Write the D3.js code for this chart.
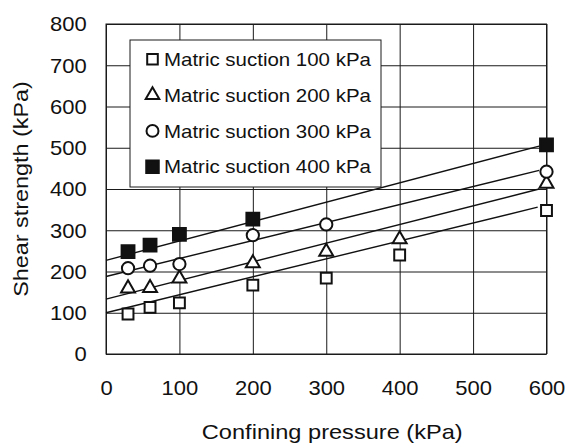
<!DOCTYPE html>
<html>
<head>
<meta charset="utf-8">
<script src="https://cdn.jsdelivr.net/npm/d3@7"></script>
<style>
  body { margin: 0; background: #fff; }
  #wrapper svg { display: block; }
  text { font-family: "Liberation Sans", Arial, sans-serif; fill: #111; }
</style>
</head>
<body>
<div id="wrapper"></div>
<script>
// data
const pressures = [30, 60, 100, 200, 300, 400, 600]
const suction100 = [97, 113, 124, 167, 184, 240, 348]
const suction200 = [159, 160, 183, 220, 248, 278, 413]
const suction300 = [208, 214, 218, 288, 314, null, 442]
const suction400 = [248, 264, 290, 327, null, null, 507]

// fitted lines, [pressure, strength] end points
const fit100 = [[0, 100], [588, 356]]
const fit200 = [[0, 133], [590, 400]]
const fit300 = [[0, 188], [590, 445]]
const fit400 = [[0, 227], [590, 504]]

const seriesNames = ["Matric suction 100 kPa", "Matric suction 200 kPa", "Matric suction 300 kPa", "Matric suction 400 kPa"]
const xTicks = [0, 100, 200, 300, 400, 500, 600]
const yTicks = [0, 100, 200, 300, 400, 500, 600, 700, 800]

function drawChart(){
    const xAccessor = d => d[0]
    const yAccessor = d => d[1]

    let dimensions = {
        width: 566,
        height: 444,
        margin: { top: 24, right: 19.5, bottom: 90, left: 106 },
    }
    dimensions.boundedWidth = dimensions.width - dimensions.margin.left - dimensions.margin.right
    dimensions.boundedHeight = dimensions.height - dimensions.margin.top - dimensions.margin.bottom

    const wrapper = d3.select("#wrapper")
        .append("svg")
        .attr("width", dimensions.width)
        .attr("height", dimensions.height)

    const bounds = wrapper.append("g")
        .attr("transform", `translate(${dimensions.margin.left},${dimensions.margin.top})`)

    const xScale = d3.scaleLinear().domain([0, 600]).range([0, dimensions.boundedWidth])
    const yScale = d3.scaleLinear().domain([0, 800]).range([dimensions.boundedHeight, 0])

    // grid
    bounds.append("g")
        .attr("transform", `translate(0,${dimensions.boundedHeight})`)
        .call(d3.axisBottom(xScale).tickValues(xTicks).tickSize(-dimensions.boundedHeight).tickFormat(""))
    bounds.append("g")
        .call(d3.axisLeft(yScale).tickValues(yTicks).tickSize(-dimensions.boundedWidth).tickFormat(""))
    bounds.selectAll(".domain").remove()
    bounds.selectAll(".tick line").attr("stroke", "#1a1a1a").attr("stroke-width", 1)

    bounds.append("rect")
        .attr("width", dimensions.boundedWidth)
        .attr("height", dimensions.boundedHeight)
        .attr("fill", "none")
        .attr("stroke", "#1a1a1a")
        .attr("stroke-width", 1)

    // tick labels (the scanned font is wide, so stretch it a little)
    const xLabels = bounds.append("g")
        .attr("transform", `translate(0,${dimensions.boundedHeight})`)
        .call(d3.axisBottom(xScale).tickValues(xTicks).tickSize(0).tickPadding(27))
    const yLabels = bounds.append("g")
        .call(d3.axisLeft(yScale).tickValues(yTicks).tickSize(0).tickPadding(17.5))
    xLabels.select(".domain").remove()
    yLabels.select(".domain").remove()
    ;[xLabels, yLabels].forEach(a => a.selectAll("text")
        .style("font-family", '"Liberation Sans", Arial, sans-serif')
        .style("font-size", "20px")
        .attr("fill", "#111")
        .attr("transform", "scale(1.1,1)"))
    yLabels.selectAll("text").attr("dy", "0.34em")

    // legend box (white, hides the grid)
    const legend = bounds.append("g")
        .attr("transform", `translate(${130 - dimensions.margin.left},${40 - dimensions.margin.top})`)
    legend.append("rect")
        .attr("width", 251).attr("height", 147)
        .attr("fill", "#fff").attr("stroke", "#1a1a1a").attr("stroke-width", 1)

    // fit lines
    const lineGenerator = d3.line().x(d => xScale(xAccessor(d))).y(d => yScale(yAccessor(d)))
    bounds.append("g").selectAll("path")
        .data([fit100, fit200, fit300, fit400])
        .enter().append("path")
        .attr("d", lineGenerator)
        .attr("fill", "none")
        .attr("stroke", "#111")
        .attr("stroke-width", 1.4)

    // markers
    const markerStyles = [
        { type: d3.symbolSquare, size: 118, fill: "#fff" },
        { type: d3.symbolTriangle, size: 84, fill: "#fff" },
        { type: d3.symbolCircle, size: 118, fill: "#fff" },
        { type: d3.symbolSquare, size: 165, fill: "#111" },
    ]
    const allSeries = [suction100, suction200, suction300, suction400]
    allSeries.forEach((values, i) => {
        const points = pressures.map((p, j) => [p, values[j]]).filter(d => d[1] !== null)
        const style = markerStyles[i]
        bounds.append("g").selectAll("path")
            .data(points)
            .enter().append("path")
            .attr("transform", d => `translate(${xScale(xAccessor(d))},${yScale(yAccessor(d))})`)
            .attr("d", d3.symbol().type(style.type).size(style.size))
            .attr("fill", style.fill)
            .attr("stroke", "#111")
            .attr("stroke-width", 2)
    })

    // legend entries
    const legendRows = legend.selectAll("g.row")
        .data(seriesNames)
        .enter().append("g")
        .attr("class", "row")
        .attr("transform", (d, i) => `translate(0,${19.3 + i * 35.8})`)
    legendRows.append("path")
        .attr("transform", "translate(22.5,0)")
        .attr("d", (d, i) => d3.symbol().type(markerStyles[i].type).size(markerStyles[i].size * 0.95)())
        .attr("fill", (d, i) => markerStyles[i].fill)
        .attr("stroke", "#111")
        .attr("stroke-width", 2)
    legendRows.append("text")
        .attr("transform", "translate(34,0) scale(1.1,1)")
        .attr("dy", "0.36em")
        .style("font-size", "18.6px")
        .text(d => d)

    // axis titles
    wrapper.append("text")
        .attr("transform", `translate(${dimensions.margin.left + dimensions.boundedWidth / 2 + 6},439) scale(1.18,1)`)
        .attr("text-anchor", "middle")
        .style("font-size", "20px")
        .text("Confining pressure (kPa)")

    wrapper.append("text")
        .attr("transform", `translate(28,${dimensions.margin.top + dimensions.boundedHeight / 2}) rotate(-90) scale(1.17,1)`)
        .attr("text-anchor", "middle")
        .style("font-size", "20px")
        .text("Shear strength (kPa)")
}

drawChart()
</script>
</body>
</html>
